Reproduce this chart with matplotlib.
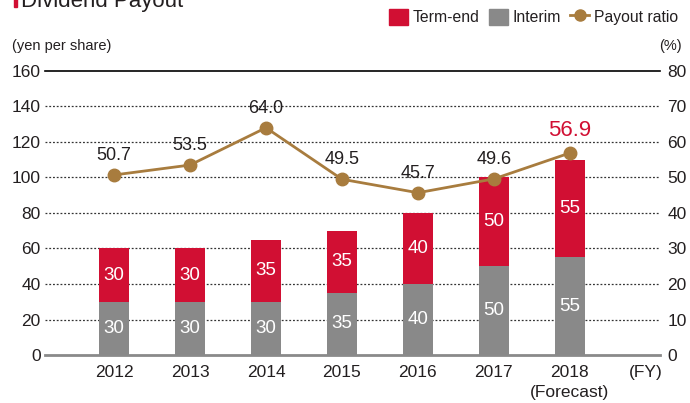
import matplotlib.pyplot as plt
from matplotlib.patches import Patch, Rectangle
from matplotlib.lines import Line2D

plt.rcParams['font.family'] = ['Liberation Sans', 'DejaVu Sans']

years = ['2012', '2013', '2014', '2015', '2016', '2017', '2018']
interim = [30, 30, 30, 35, 40, 50, 55]
term_end = [30, 30, 35, 35, 40, 50, 55]
payout_ratio = [50.7, 53.5, 64.0, 49.5, 45.7, 49.6, 56.9]
left_ticks = [0, 20, 40, 60, 80, 100, 120, 140, 160]
right_ticks = [0, 10, 20, 30, 40, 50, 60, 70, 80]

RED = '#D10F33'
GREY = '#898989'
GOLD = '#A87C3E'
TEXT = '#231F20'

fig = plt.figure(figsize=(6.9, 4.03), dpi=100)
ax = fig.add_axes([0.065, 0.119, 0.892, 0.705])
ax2 = ax.twinx()

x = list(range(len(years)))
w = 0.4
ax.bar(x, interim, width=w, color=GREY, zorder=3)
ax.bar(x, term_end, width=w, bottom=interim, color=RED, zorder=3)

for xi, a, b in zip(x, interim, term_end):
    ax.text(xi, a / 2, f'{a}', ha='center', va='center', color='white',
            fontsize=13.5, zorder=4)
    ax.text(xi, a + b / 2, f'{b}', ha='center', va='center', color='white',
            fontsize=13.5, zorder=4)

ax.set_xlim(-0.91, 7.19)
ax.set_ylim(0, 160)
ax2.set_ylim(0, 80)

# grid lines
for v in left_ticks[1:-1]:
    ax.axhline(v, color='#333333', lw=0.9, ls=(0, (1.5, 1.5)), zorder=1)
ax.axhline(160, color='black', lw=1.2, zorder=1, clip_on=False)
ax.axhline(0, color='#8a8a8a', lw=2, zorder=5, clip_on=False)

ax.set_yticks(left_ticks)
ax.set_yticklabels([str(t) for t in left_ticks])
ax2.set_yticks(right_ticks)
ax2.set_yticklabels([str(t) for t in right_ticks])
ax.set_xticks(x + [7])
ax.set_xticklabels(years + ['(FY)'])
for a in (ax, ax2):
    a.tick_params(length=0, labelsize=12.5, labelcolor=TEXT)
    for s in a.spines.values():
        s.set_visible(False)
ax.tick_params(axis='y', pad=3)
ax2.tick_params(axis='y', pad=5)
ax.tick_params(axis='x', pad=7)
ax.text(6, -21, '(Forecast)', ha='center', va='center', fontsize=12.5,
        color=TEXT, clip_on=False)

# payout ratio line
ax2.plot(x, payout_ratio, color=GOLD, lw=2, marker='o', ms=9, zorder=6)
ax2.set_zorder(ax.get_zorder() + 1)
ax2.patch.set_visible(False)
for xi, v in zip(x, payout_ratio):
    if xi == len(x) - 1:
        ax2.text(xi, v + 6.2, f'{v:.1f}', ha='center', va='center',
                 fontsize=16, color=RED)
    else:
        ax2.text(xi, v + 5.5, f'{v:.1f}', ha='center', va='center',
                 fontsize=13, color=TEXT)

fig.text(0.017, 0.885, '(yen per share)', ha='left', va='center',
         fontsize=10.5, color=TEXT)
fig.text(0.988, 0.885, '(%)', ha='right', va='center', fontsize=10.5,
         color=TEXT)

# title
fig.patches.append(Rectangle((0.020, 0.983), 0.004, 0.03, transform=fig.transFigure,
                             color=RED, figure=fig))
fig.text(0.03, 0.983, 'Dividend Payout', ha='left', va='baseline',
         fontsize=16, color=TEXT)

handles = [Patch(color=RED, label='Term-end'),
           Patch(color=GREY, label='Interim'),
           Line2D([0], [0], color=GOLD, lw=2, marker='o', ms=8,
                  label='Payout ratio')]
fig.legend(handles=handles, loc='center right', bbox_to_anchor=(1.003, 0.958),
           ncol=3, frameon=False, fontsize=11.3, handlelength=1.2,
           handleheight=1.2, handletextpad=0.3, columnspacing=0.6,
           labelcolor=TEXT)

fig.savefig('out.png', dpi=100)
